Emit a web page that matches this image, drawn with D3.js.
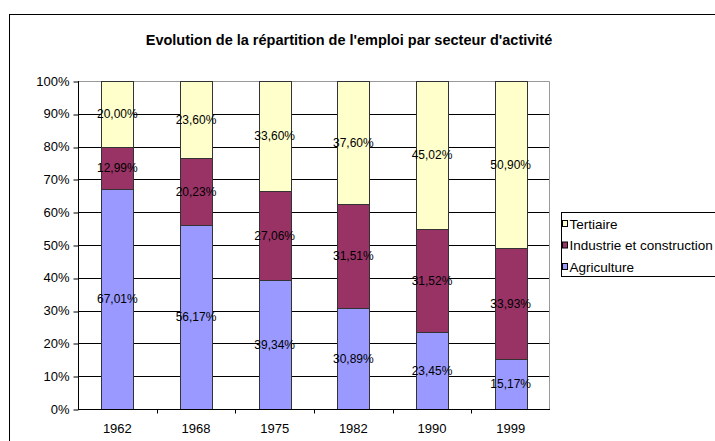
<!DOCTYPE html>
<html>
<head>
<meta charset="utf-8">
<script src="https://cdn.jsdelivr.net/npm/d3@7"></script>
<style>
  body { margin: 0; background: #fff; }
  text { font-family: 'Liberation Sans', Arial, sans-serif; }
</style>
</head>
<body>
<div id="chart"></div>
<script>
const years = ['1962', '1968', '1975', '1982', '1990', '1999']
const agriculture = [67.01, 56.17, 39.34, 30.89, 23.45, 15.17]
const industrie = [12.99, 20.23, 27.06, 31.51, 31.52, 33.93]
const tertiaire = [20.0, 23.6, 33.6, 37.6, 45.02, 50.9]
const seriesNames = ['Agriculture', 'Industrie et construction', 'Tertiaire']
const yTicks = [0, 10, 20, 30, 40, 50, 60, 70, 80, 90, 100]

const colors = ['#9999ff', '#993366', '#ffffcc']

const margin = { top: 81, left: 78, right: 165, bottom: 32 }
const width = 715 - margin.left - margin.right
const height = 441 - margin.top - margin.bottom

const root = d3
  .select('#chart')
  .append('svg')
  .attr('width', 715)
  .attr('height', 441)

// chart frame (runs off the right and bottom edge)
root
  .append('rect')
  .attr('x', 9.5)
  .attr('y', 14.5)
  .attr('width', 720)
  .attr('height', 440)
  .attr('fill', 'none')
  .attr('stroke', '#000')

root
  .append('text')
  .text("Evolution de la répartition de l'emploi par secteur d'activité")
  .attr('x', 349)
  .attr('y', 45)
  .attr('text-anchor', 'middle')
  .style('font-size', '14.5px')
  .style('font-weight', 'bold')

const svg = root
  .append('g')
  .attr('transform', 'translate(' + margin.left + ',' + margin.top + ')')

const xScale = d3.scaleBand().domain(years).range([0, width])
const yScale = d3.scaleLinear().domain([0, 100]).range([height, 0])
const barWidth = xScale.bandwidth() * 0.41

// gridlines
svg
  .selectAll('.grid')
  .data(yTicks.slice(1, -1))
  .enter()
  .append('line')
  .attr('x1', 0)
  .attr('x2', width)
  .attr('y1', d => Math.round(yScale(d)) + 0.5)
  .attr('y2', d => Math.round(yScale(d)) + 0.5)
  .attr('stroke', '#000')

// plot area border top / right
svg
  .append('path')
  .attr('d', `M0,0.5H${width - 0.5}V${height}`)
  .attr('fill', 'none')
  .attr('stroke', '#999')

const stackData = years.map((y, i) => ({
  year: y,
  Agriculture: agriculture[i],
  'Industrie et construction': industrie[i],
  Tertiaire: tertiaire[i]
}))

const stacked = d3.stack().keys(seriesNames)(stackData)

const fmt = v => v.toFixed(2).replace('.', ',') + '%'

stacked.forEach((layer, li) => {
  const g = svg.append('g')
  g.selectAll('rect')
    .data(layer)
    .enter()
    .append('rect')
    .attr('x', d => Math.round(xScale(d.data.year) + (xScale.bandwidth() - barWidth) / 2) + 0.5)
    .attr('y', d => Math.round(yScale(Math.min(d[1], 100))) + 0.5)
    .attr('width', Math.round(barWidth))
    .attr('height', d => Math.round(yScale(d[0])) - Math.round(yScale(Math.min(d[1], 100))))
    .attr('fill', colors[li])
    .attr('stroke', '#333')
    .attr('stroke-width', 1)
})

stacked.forEach(layer => {
  svg
    .append('g')
    .selectAll('text')
    .data(layer)
    .enter()
    .append('text')
    .text(d => fmt(d[1] - d[0]))
    .attr('x', d => xScale(d.data.year) + xScale.bandwidth() / 2)
    .attr('y', d => yScale((d[0] + d[1]) / 2))
    .attr('dy', '0.35em')
    .attr('text-anchor', 'middle')
    .style('font-size', '12px')
})

// y axis
const yAxis = svg
  .append('g')
  .attr('transform', 'translate(0.5,0)')
  .call(
    d3
      .axisLeft(yScale)
      .tickValues(yTicks)
      .tickSize(5)
      .tickPadding(4)
      .tickFormat(d => d + '%')
  )
yAxis.select('.domain').attr('d', `M0,0V${height}`)
yAxis.selectAll('text').style('font-size', '13px').attr('fill', '#000')
yAxis.selectAll('line').attr('transform', d => `translate(0,${Math.round(yScale(d)) + 0.5 - yScale(d)})`)

// x axis
const xAxis = svg
  .append('g')
  .attr('transform', 'translate(0,' + (height + 0.5) + ')')
  .call(d3.axisBottom(xScale).tickSize(0).tickPadding(14))
xAxis.select('.domain').attr('d', `M0,0H${width}`)
xAxis.selectAll('text').style('font-size', '13px').attr('fill', '#000')
xAxis
  .selectAll('.sep')
  .data(years.slice(1))
  .enter()
  .append('line')
  .attr('x1', d => Math.round(xScale(d)) + 0.5)
  .attr('x2', d => Math.round(xScale(d)) + 0.5)
  .attr('y1', 0)
  .attr('y2', 4)
  .attr('stroke', '#000')

// legend
const legend = root.append('g').attr('transform', 'translate(561,212)')
legend
  .append('rect')
  .attr('x', 0.5)
  .attr('y', 0.5)
  .attr('width', 170)
  .attr('height', 64)
  .attr('fill', '#fff')
  .attr('stroke', '#000')

const legendItems = seriesNames.slice().reverse()
legend
  .selectAll('.item')
  .data(legendItems)
  .enter()
  .append('g')
  .attr('transform', (d, i) => 'translate(0,' + (12 + i * 21.5) + ')')
  .each(function(d) {
    const g = d3.select(this)
    g.append('rect')
      .attr('x', 1.5)
      .attr('y', -3.5)
      .attr('width', 5)
      .attr('height', 6)
      .attr('fill', colors[seriesNames.indexOf(d)])
      .attr('stroke', '#000')
    g.append('text')
      .text(d)
      .attr('x', 8.5)
      .attr('dy', '0.35em')
      .style('font-size', '13.5px')
  })
</script>
</body>
</html>
